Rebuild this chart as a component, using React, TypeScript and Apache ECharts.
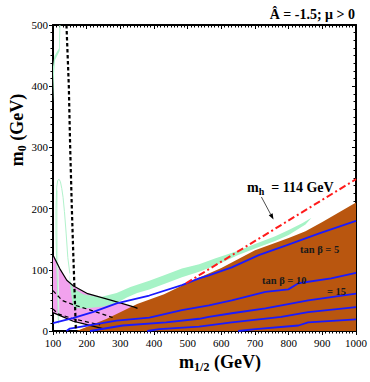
import React, { useEffect, useRef } from "react";
import * as echarts from "echarts";

const X_MIN = 100, X_MAX = 1000, X_STEP = 100;
const Y_MIN = 0, Y_MAX = 500, Y_STEP = 100;

const brownRegion = [[170,0],[260,20],[350,44],[430,60],[513,82],[600,103],[700,132],[800,152],[850,163],[900,178],[1000,210],[1000,0]];
const pinkRegion = [[100,124],[120,102],[141,83],[160,74],[203,61],[274,50],[342,39],[351,37],[300,20],[248,4],[189,12],[160,16],[130,23],[100,30]];
const greenBand = [[148,94],[152,80],[160,70],[189,60],[239,55],[289,62],[330,72],[386,82],[430,91],[483,102],[534,109],[583,119],[650,131],[700,142],[760,155],[800,165],[840,176],[868,185],[850,174],[800,157],[760,147],[700,135],[650,124],[583,107],[534,97],[483,88],[430,77],[386,68],[350,62],[321,55],[290,46],[250,40],[200,37],[165,37],[158,45],[152,70]];
const greenStrip = [[111,232],[110,200],[110,160],[112,110],[114,60],[116,15],[119,15],[118,60],[116,110],[114,160],[114,200],[115,228]];
const greenOutline = [[116,12],[114,60],[111,110],[109,160],[109,200],[111,235],[114,246],[118,248],[122,244],[126,233],[130,218],[134,195],[139,160],[144,120],[150,94]];
const greenTop = [[100,372],[103,420],[106,443],[120,458],[122,500],[119,500],[118,462],[104,449],[100,432]];

const blackUpper = [[100,124],[120,102],[141,83],[160,74],[203,61],[274,50],[342,39],[351,37]];
const blackLower = [[100,30],[130,23],[160,16],[189,12],[248,4]];
const dashedUpper = [[100,66],[127,50],[160,43],[218,33],[277,22]];
const dashedLower = [[100,36],[115,28],[160,20],[200,15],[240,10]];
const charginoLine = [[140,500],[147,400],[151,300],[156,200],[160,130],[165,50],[168,0]];

const blueTan5 = [[100,13],[159,21],[218,31],[289,45],[386,58],[483,75],[534,86],[563,91],[631,104],[711,124],[793,140],[893,160],[1000,180]];
const blueTan10 = [[140,0],[150,4],[289,17],[386,22],[483,34],[563,42],[631,50],[731,64],[799,68],[829,78],[926,86],[1000,95]];
const blueTan15 = [[210,0],[307,9],[436,14],[534,20],[563,23],[631,29],[731,37],[858,50],[1000,61]];
const blueTan20 = [[380,0],[416,3],[534,7],[631,14],[778,23],[858,31],[1000,39]];
const blueTan25 = [[650,0],[702,3],[829,9],[858,14],[1000,19]];

const higgsLine = [[495,78],[1000,248]];
const higgsArrow = [[719,219],[755,182]];

const SERIF = "'Liberation Serif', 'Times New Roman', serif";

function polygon(name: string, pts: number[][], fill: string, stroke?: string, lw = 0) {
  return {
    type: "custom",
    name,
    coordinateSystem: "cartesian2d",
    clip: true,
    silent: true,
    data: [pts[0]],
    renderItem: (_p: any, api: any) => ({
      type: "polygon",
      shape: { points: pts.map((p) => api.coord(p)) },
      style: { fill, stroke: stroke || null, lineWidth: lw },
    }),
  };
}

function line(name: string, pts: number[][], color: string, width: number, type: any = "solid") {
  return {
    type: "line",
    name,
    data: pts,
    showSymbol: false,
    symbol: "none",
    silent: true,
    clip: true,
    lineStyle: { color, width, type },
  };
}

export default function App() {
  const ref = useRef<HTMLDivElement>(null);
  useEffect(() => {
    const chart = echarts.init(ref.current!, null, { renderer: "svg" });
    const axisCommon = {
      type: "value",
      splitLine: { show: false },
      axisLine: { show: true, onZero: false, lineStyle: { color: "#000", width: 2 } },
    };
    chart.setOption({
      animation: false,
      backgroundColor: "#fff",
      grid: { left: 53, right: 12, top: 25, bottom: 51 },
      xAxis: [
        {
          ...axisCommon,
          min: X_MIN, max: X_MAX, interval: X_STEP, position: "bottom",
          axisTick: { show: true, inside: false, length: 4, lineStyle: { color: "#000" } },
          minorTick: { show: true, splitNumber: 10, length: 2.5, lineStyle: { color: "#000" } },
          axisLabel: { color: "#000", fontSize: 11, fontFamily: SERIF, margin: 6, formatter: (v: number) => String(v) },
        },
        {
          ...axisCommon,
          min: X_MIN, max: X_MAX, interval: X_STEP, position: "top",
          axisTick: { show: true, inside: true, length: 4, lineStyle: { color: "#000" } },
          minorTick: { show: true, splitNumber: 10, length: 2.5, lineStyle: { color: "#000" } },
          axisLabel: { show: false },
        },
      ],
      yAxis: [
        {
          ...axisCommon,
          min: Y_MIN, max: Y_MAX, interval: Y_STEP, position: "left",
          axisTick: { show: true, inside: false, length: 4, lineStyle: { color: "#000" } },
          minorTick: { show: true, splitNumber: 8, length: 2.5, lineStyle: { color: "#000" } },
          axisLabel: { color: "#000", fontSize: 11, fontFamily: SERIF, margin: 5, formatter: (v: number) => String(v) },
        },
        {
          ...axisCommon,
          min: Y_MIN, max: Y_MAX, interval: Y_STEP, position: "right",
          axisTick: { show: true, inside: true, length: 4, lineStyle: { color: "#000" } },
          minorTick: { show: true, splitNumber: 8, length: 2.5, lineStyle: { color: "#000" } },
          axisLabel: { show: false },
        },
      ],
      series: [
        polygon("pink", pinkRegion, "#f2a2ee"),
        polygon("brown", brownRegion, "#b9560f"),
        polygon("green", greenBand, "#a6f3c6"),
        polygon("greenStrip", greenStrip, "#dcfbe8"),
        polygon("greenTop", greenTop, "#b0f4cc"),
        line("greenOutline", greenOutline, "#b2f2cc", 1),
        line("blackUpper", blackUpper, "#000", 1.2),
        line("blackLower", blackLower, "#000", 1.2),
        line("dashedUpper", dashedUpper, "#000", 1.2, [4, 3]),
        line("dashedLower", dashedLower, "#000", 1.2, [4, 3]),
        line("tan5", blueTan5, "#1a1aff", 1.8),
        line("tan10", blueTan10, "#1a1aff", 1.8),
        line("tan15", blueTan15, "#1a1aff", 1.8),
        line("tan20", blueTan20, "#1a1aff", 1.8),
        line("tan25", blueTan25, "#1a1aff", 1.8),
        line("higgs", higgsLine, "#ff1a1a", 2, [7, 3, 2, 3]),
        line("chargino", charginoLine, "#000", 2.2, [3.5, 2.5]),
        {
          type: "custom",
          name: "arrow",
          coordinateSystem: "cartesian2d",
          silent: true,
          data: [higgsArrow[0]],
          renderItem: (_p: any, api: any) => {
            const a = api.coord(higgsArrow[0]);
            const b = api.coord(higgsArrow[1]);
            const dx = b[0] - a[0], dy = b[1] - a[1];
            const len = Math.hypot(dx, dy);
            const ux = dx / len, uy = dy / len;
            const h = 6, w = 2.2;
            const base = [b[0] - ux * h, b[1] - uy * h];
            return {
              type: "group",
              children: [
                { type: "line", shape: { x1: a[0], y1: a[1], x2: base[0], y2: base[1] }, style: { stroke: "#000", lineWidth: 0.7 } },
                {
                  type: "polygon",
                  shape: { points: [b, [base[0] - uy * w, base[1] + ux * w], [base[0] + uy * w, base[1] - ux * w]] },
                  style: { fill: "#000" },
                },
              ],
            };
          },
        },
      ],
      graphic: [
        {
          type: "text", right: 15, top: 7, z: 100,
          style: { text: "Â = -1.5; μ > 0", font: `bold 14px ${SERIF}`, fill: "#000" },
        },
        {
          type: "text", x: 247, y: 187, z: 100,
          style: {
            text: "{m|m}{s|h}{m|  = 114 GeV}",
            verticalAlign: "middle",
            rich: {
              m: { font: `bold 14px ${SERIF}`, fill: "#000" },
              s: { font: `bold 10px ${SERIF}`, fill: "#000", padding: [8, 0, 0, 0] },
            },
          },
        },
        { type: "text", x: 300, y: 249, z: 100, style: { text: "tan β = 5", font: `bold 10.5px ${SERIF}`, fill: "#1a1a1a", verticalAlign: "middle" } },
        { type: "text", x: 262, y: 280, z: 100, style: { text: "tan β = 10", font: `bold 10.5px ${SERIF}`, fill: "#1a1a1a", verticalAlign: "middle" } },
        { type: "text", x: 327, y: 291, z: 100, style: { text: "= 15", font: `bold 10.5px ${SERIF}`, fill: "#1a1a1a", verticalAlign: "middle" } },
        {
          type: "text", x: 220, y: 362, z: 100,
          style: {
            text: "{m|m}{s|1/2}{m| (GeV)}",
            align: "center", verticalAlign: "middle",
            rich: {
              m: { font: `bold 18px ${SERIF}`, fill: "#000" },
              s: { font: `bold 12px ${SERIF}`, fill: "#000", padding: [10, 0, 0, 0] },
            },
          },
        },
        {
          type: "text", x: 17, y: 130, rotation: Math.PI / 2, z: 100,
          style: {
            text: "{m|m}{s|0}{m| (GeV)}",
            align: "center", verticalAlign: "middle",
            rich: {
              m: { font: `bold 18px ${SERIF}`, fill: "#000" },
              s: { font: `bold 12px ${SERIF}`, fill: "#000", padding: [10, 0, 0, 0] },
            },
          },
        },
      ],
    });
    return () => chart.dispose();
  }, []);
  return <div ref={ref} style={{ position: "fixed", left: 0, top: 0, width: 370, height: 382 }} />;
}
